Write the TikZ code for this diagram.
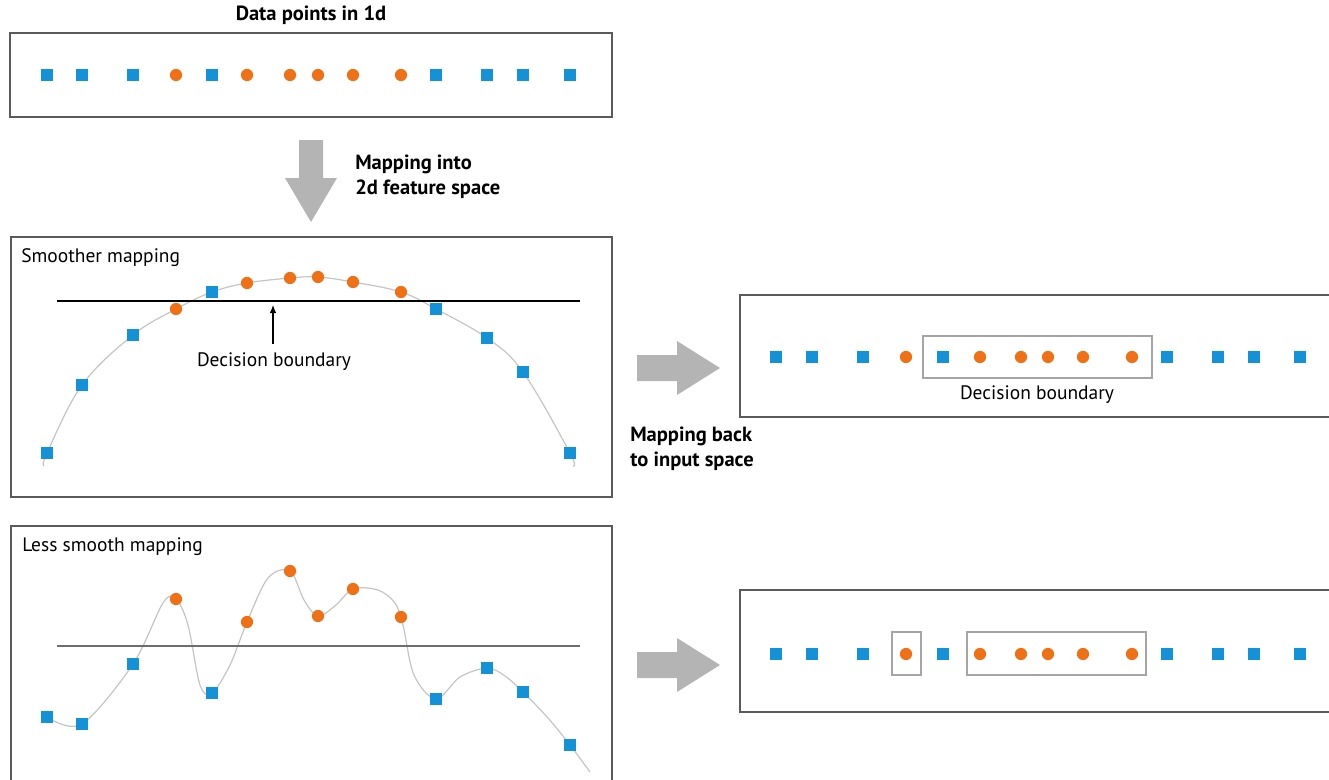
\documentclass[tikz,border=0pt]{standalone}
\usepackage{fontspec}
\setmainfont{PT Sans}
\usetikzlibrary{arrows.meta}
\definecolor{ptblue}{RGB}{20,146,216}
\definecolor{ptorange}{RGB}{240,112,22}
\definecolor{boxgray}{RGB}{90,90,90}
\definecolor{arrowgray}{RGB}{180,180,180}
\definecolor{curvegray}{RGB}{196,196,196}
\definecolor{rectgray}{RGB}{165,165,165}
\definecolor{linegray}{RGB}{110,110,110}
\begin{document}
\begin{tikzpicture}[x=0.75pt,y=-0.75pt,
  sq/.style={fill=ptblue,minimum size=9.6pt,inner sep=0pt,outer sep=0pt},
  dot/.style={circle,fill=ptorange,minimum size=9.2pt,inner sep=0pt,outer sep=0pt},
  panel/.style={draw=boxgray,line width=1.3pt},
  inner/.style={draw=rectgray,line width=1pt},
  blockarrow/.style={fill=arrowgray,draw=none},
  curve/.style={draw=curvegray,line width=0.9pt},
  lbl/.style={font=\fontsize{14.6}{17}\selectfont,inner sep=0pt},
  blbl/.style={font=\bfseries\fontsize{15.4}{18.5}\selectfont,inner sep=0pt,align=left}
]
\clip (0,0) rectangle (1329,779);
\useasboundingbox (0,0) rectangle (1329,779);

% ---------- top row ----------
\node[blbl,anchor=base] (title) at (311,20) {Data points in 1d};
\draw[panel] (10,33) rectangle (612,117);
\foreach \x/\k in {47/1,82/2,133/3,212/5,436/11,487/12,523/13,570/14}
  \node[sq] (t\k) at (\x,75) {};
\foreach \x/\k in {176/4,247/6,290/7,318/8,353/9,401/10}
  \node[dot] (t\k) at (\x,75) {};

% ---------- down arrow ----------
\fill[blockarrow] (299,140) -- (323,140) -- (323,178) -- (337,178) -- (311,222)
   -- (285,178) -- (299,178) -- cycle;
\node[blbl,anchor=north west] (mapinto) at (355,155) {Mapping into\\2d feature space};

% ---------- smoother mapping ----------
\draw[panel] (11,237) rectangle (612,497);
\node[lbl,anchor=base west] (smooth) at (21,262) {Smoother mapping};
\draw[curve] plot[smooth,tension=0.6] coordinates {(44,466) (47,453) (82,385) (133,335) (176,309) (212,292) (247,283) (290,278) (318,277) (353,282) (401,292) (436,309) (487,338) (523,372) (570,453) (573,466)};
\coordinate (bl1) at (57,301);
\coordinate (bl2) at (580,301);
\draw[black,line width=1.1pt] (bl1) -- (bl2);
\foreach \x/\y/\k in {47/453/1,82/385/2,133/335/3,212/292/5,436/309/11,487/338/12,523/372/13,570/453/14}
  \node[sq] (s\k) at (\x,\y) {};
\foreach \x/\y/\k in {176/309/4,247/283/6,290/278/7,318/277/8,353/282/9,401/292/10}
  \node[dot] (s\k) at (\x,\y) {};
\node[lbl,anchor=base] (dbl) at (274,366) {Decision boundary};
\coordinate (dbtip) at (273,305);
\draw[-{Latex[length=6pt,width=5pt]},line width=0.9pt] (dbl.north -| dbtip) ++(0,-8) -- (dbtip);

% ---------- right arrow (middle) ----------
\fill[blockarrow] (637,355) -- (677,355) -- (677,341) -- (720,368) -- (677,395)
   -- (677,381) -- (637,381) -- cycle;
\node[blbl,anchor=north west] (mapback) at (630,427) {Mapping back\\to input space};

% ---------- middle right row ----------
\draw[panel] (740,295) rectangle (1345,417);
\draw[inner] (923,336) rectangle (1152,378);
\foreach \x/\k in {776/1,812/2,863/3,943/5,1167/11,1218/12,1254/13,1300/14}
  \node[sq] (r\k) at (\x,357) {};
\foreach \x/\k in {906/4,980/6,1021/7,1048/8,1083/9,1132/10}
  \node[dot] (r\k) at (\x,357) {};
\node[lbl,anchor=base] (dbr) at (1037,399) {Decision boundary};

% ---------- less smooth mapping ----------
\draw[panel] (11,526) rectangle (612,800);
\node[lbl,anchor=base west] (lesssmooth) at (22,551) {Less smooth mapping};
\draw[curve] plot[smooth,tension=0.55] coordinates {(47,717) (82,724) (133,664) (163,603) (176,599) (188,625) (200,685) (212,693) (230,665) (247,622) (268,578) (290,571) (304,600) (318,616) (336,605) (353,589) (378,590) (395,603) (403,625) (414,675) (436,699) (460,677) (487,668) (505,676) (523,692) (548,718) (570,745) (590,772)};
\coordinate (gl1) at (57,646);
\coordinate (gl2) at (580,646);
\draw[linegray,line width=1.8pt] (gl1) -- (gl2);
\foreach \x/\y/\k in {47/717/1,82/724/2,133/664/3,212/693/5,436/699/11,487/668/12,523/692/13,570/745/14}
  \node[sq] (l\k) at (\x,\y) {};
\foreach \x/\y/\k in {176/599/4,247/622/6,290/571/7,318/616/8,353/589/9,401/617/10}
  \node[dot] (l\k) at (\x,\y) {};

% ---------- right arrow (bottom) ----------
\fill[blockarrow] (637,652) -- (677,652) -- (677,638) -- (720,665) -- (677,692)
   -- (677,678) -- (637,678) -- cycle;

% ---------- bottom right row ----------
\draw[panel] (740,590) rectangle (1345,712);
\draw[inner] (892,632) rectangle (921,675);
\draw[inner] (967,632) rectangle (1146,675);
\foreach \x/\k in {776/1,812/2,863/3,943/5,1167/11,1218/12,1254/13,1300/14}
  \node[sq] (b\k) at (\x,654) {};
\foreach \x/\k in {906/4,980/6,1021/7,1048/8,1083/9,1132/10}
  \node[dot] (b\k) at (\x,654) {};
\end{tikzpicture}
\end{document}
